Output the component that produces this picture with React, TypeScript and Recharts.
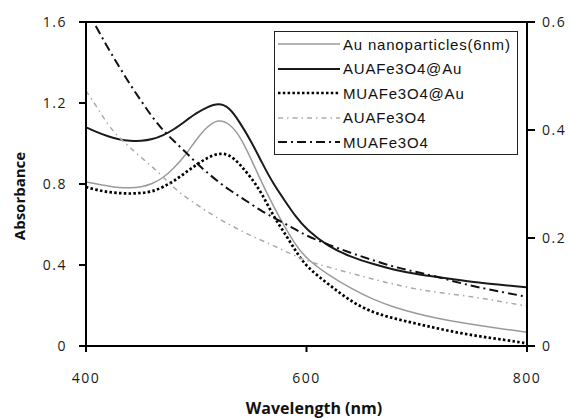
import React from 'react';
import { LineChart, Line, XAxis, YAxis, Legend, ReferenceLine } from 'recharts';

const wavelengths = [400, 410, 420, 430, 440, 450, 460, 470, 480, 490, 500, 510, 520, 530, 540, 550, 560, 570, 580, 590, 600, 620, 640, 660, 680, 700, 720, 740, 760, 780, 800];

// left axis (Absorbance)
const auNano = [0.81, 0.80, 0.79, 0.782, 0.78, 0.785, 0.80, 0.83, 0.88, 0.94, 1.02, 1.085, 1.12, 1.10, 1.035, 0.92, 0.80, 0.69, 0.59, 0.50, 0.43, 0.35, 0.285, 0.23, 0.19, 0.16, 0.135, 0.115, 0.098, 0.083, 0.068];
const auaFe3O4Au = [1.08, 1.055, 1.035, 1.02, 1.013, 1.012, 1.02, 1.04, 1.07, 1.11, 1.15, 1.18, 1.2, 1.18, 1.10, 1.01, 0.90, 0.80, 0.72, 0.64, 0.575, 0.49, 0.44, 0.405, 0.375, 0.355, 0.34, 0.325, 0.31, 0.30, 0.29];
const muaFe3O4Au = [0.785, 0.77, 0.76, 0.755, 0.752, 0.755, 0.762, 0.785, 0.815, 0.855, 0.895, 0.93, 0.952, 0.948, 0.895, 0.83, 0.75, 0.64, 0.56, 0.47, 0.39, 0.305, 0.22, 0.165, 0.135, 0.11, 0.085, 0.063, 0.045, 0.03, 0.013];
// right axis
const auaFe3O4 = [0.4725, 0.4425, 0.409, 0.386, 0.3675, 0.349, 0.332, 0.313, 0.2925, 0.276, 0.2625, 0.249, 0.236, 0.225, 0.214, 0.204, 0.195, 0.186, 0.176, 0.167, 0.1575, 0.146, 0.135, 0.124, 0.114, 0.105, 0.099, 0.094, 0.088, 0.081, 0.074];
const muaFe3O4 = [0.6225, 0.589, 0.551, 0.5175, 0.484, 0.454, 0.424, 0.399, 0.379, 0.36, 0.339, 0.321, 0.304, 0.289, 0.276, 0.2625, 0.249, 0.238, 0.227, 0.216, 0.204, 0.1875, 0.1725, 0.159, 0.146, 0.137, 0.1275, 0.116, 0.107, 0.099, 0.091];

const xTicks = [400, 600, 800];
const leftTicks = [0, 0.4, 0.8, 1.2, 1.6];
const rightTicks = [0, 0.2, 0.4, 0.6];

const seriesNames = ['Au nanoparticles(6nm)', 'AUAFe3O4@Au', 'MUAFe3O4@Au', 'AUAFe3O4', 'MUAFe3O4'];

const data = wavelengths.map((w, i) => ({
  w,
  s0: auNano[i],
  s1: auaFe3O4Au[i],
  s2: muaFe3O4Au[i],
  s3: auaFe3O4[i],
  s4: muaFe3O4[i],
}));

const styles = [
  { stroke: '#9a9a9a', width: 1.5, dash: undefined as string | undefined },
  { stroke: '#1a1a1a', width: 2, dash: undefined as string | undefined },
  { stroke: '#000000', width: 2.7, dash: '2.5 2.3' },
  { stroke: '#aaaaaa', width: 1.5, dash: '5 4 1.5 4' },
  { stroke: '#111111', width: 2, dash: '9 4 2 4' },
];

const tickFont = { fontFamily: '"Open Sans", sans-serif', fontSize: 14, fill: '#1a1a1a', letterSpacing: 1.5 };

const renderLegend = () => (
  <div
    style={{
      border: '1.5px solid #222',
      background: '#fff',
      width: 242,
      height: 122,
      boxSizing: 'content-box',
      fontFamily: '"Liberation Sans", Arial, sans-serif',
      fontSize: 15,
      letterSpacing: 0.8,
      color: '#111',
    }}
  >
    {seriesNames.map((name, i) => (
      <div key={name} style={{ height: 24.5, display: 'flex', alignItems: 'center' }}>
        <svg width={64} height={10} style={{ marginLeft: 3, flex: 'none' }}>
          <line x1={0} y1={5} x2={62} y2={5} stroke={styles[i].stroke} strokeWidth={styles[i].width} strokeDasharray={styles[i].dash} />
        </svg>
        <span style={{ marginLeft: 1, whiteSpace: 'nowrap' }}>{name}</span>
      </div>
    ))}
  </div>
);

export default function App() {
  return (
    <div style={{ position: 'absolute', left: 0, top: 0, width: 571, height: 418, background: '#fff' }}>
      <LineChart width={571} height={418} data={data} margin={{ top: 22, right: 0, bottom: 0, left: 0 }}>
        <XAxis
          dataKey="w"
          type="number"
          domain={[400, 800]}
          ticks={xTicks}
          allowDataOverflow
          height={72}
          tickSize={6}
          tickMargin={21}
          axisLine={{ stroke: '#000', strokeWidth: 2 }}
          tickLine={{ stroke: '#000', strokeWidth: 2 }}
          tick={tickFont}
          label={{
            content: () => (
              <text x={314} y={414} textAnchor="middle" fontFamily='"Open Sans", sans-serif' fontWeight="bold" fontSize={16} fill="#111">
                Wavelength (nm)
              </text>
            ),
          }}
        />
        <YAxis
          yAxisId="left"
          domain={[0, 1.6]}
          ticks={leftTicks}
          allowDataOverflow
          width={86}
          tickSize={7}
          tickMargin={12}
          axisLine={{ stroke: '#000', strokeWidth: 2 }}
          tickLine={{ stroke: '#000', strokeWidth: 2 }}
          tick={tickFont}
          label={{
            content: () => (
              <text x={25} y={196} transform="rotate(-90 25 196)" textAnchor="middle" fontFamily='"Open Sans", sans-serif' fontWeight="bold" fontSize={15} fill="#111">
                Absorbance
              </text>
            ),
          }}
        />
        <YAxis
          yAxisId="right"
          orientation="right"
          domain={[0, 0.6]}
          ticks={rightTicks}
          allowDataOverflow
          width={44}
          tickSize={8}
          tickMargin={7}
          axisLine={{ stroke: '#000', strokeWidth: 2 }}
          tickLine={{ stroke: '#000', strokeWidth: 2 }}
          tick={tickFont}
        />
        <ReferenceLine yAxisId="left" y={1.6} stroke="#000" strokeWidth={2} />
        <Line yAxisId="left" dataKey="s0" name={seriesNames[0]} type="basis" dot={false} stroke={styles[0].stroke} strokeWidth={styles[0].width} isAnimationActive={false} />
        <Line yAxisId="left" dataKey="s1" name={seriesNames[1]} type="basis" dot={false} stroke={styles[1].stroke} strokeWidth={styles[1].width} isAnimationActive={false} />
        <Line yAxisId="left" dataKey="s2" name={seriesNames[2]} type="basis" dot={false} stroke={styles[2].stroke} strokeWidth={styles[2].width} strokeDasharray={styles[2].dash} isAnimationActive={false} />
        <Line yAxisId="right" dataKey="s3" name={seriesNames[3]} type="basis" dot={false} stroke={styles[3].stroke} strokeWidth={styles[3].width} strokeDasharray={styles[3].dash} isAnimationActive={false} />
        <Line yAxisId="right" dataKey="s4" name={seriesNames[4]} type="basis" dot={false} stroke={styles[4].stroke} strokeWidth={styles[4].width} strokeDasharray={styles[4].dash} isAnimationActive={false} />
        <Legend
          layout="horizontal"
          verticalAlign="middle"
          align="center"
          content={renderLegend}
          wrapperStyle={{ position: 'absolute', left: 274, top: 31, width: 245, height: 125 }}
        />
      </LineChart>
    </div>
  );
}
